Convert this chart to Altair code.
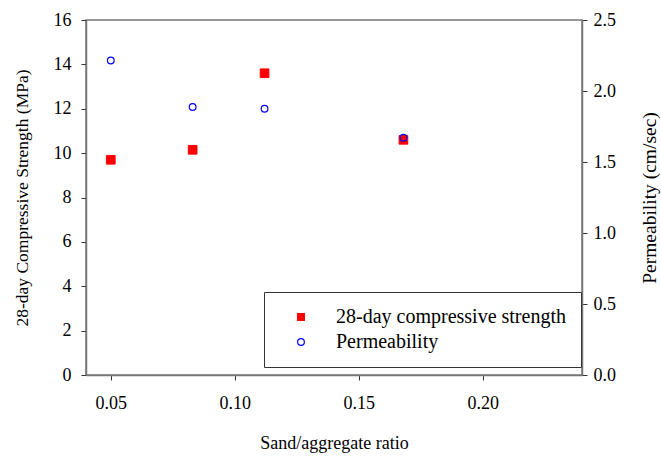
import altair as alt
import pandas as pd

ratio = [0.05, 0.083, 0.112, 0.168]
strength = [9.7, 10.15, 13.6, 10.6]
permeability = [2.215, 1.887, 1.875, 1.671]

s1 = "28-day compressive strength"
s2 = "Permeability"

df1 = pd.DataFrame({"ratio": ratio, "value": strength, "series": s1})
df2 = pd.DataFrame({"ratio": ratio, "value": permeability, "series": s2})

FONT = "Liberation Serif"
dom = [s1, s2]

xenc = alt.X("ratio:Q", scale=alt.Scale(domain=[0.04, 0.24], nice=False, zero=False),
             axis=alt.Axis(values=[0.05, 0.10, 0.15, 0.20], format=".2f",
                           title="Sand/aggregate ratio", labelPadding=14, titlePadding=22))
shape = alt.Shape("series:N", scale=alt.Scale(domain=dom, range=["square", "circle"]), title=None)
fill = alt.Fill("series:N", scale=alt.Scale(domain=dom, range=["#ff0000", "transparent"]), title=None)
stroke = alt.Stroke("series:N", scale=alt.Scale(domain=dom, range=["#ff0000", "#0000ff"]), title=None)

l1 = alt.Chart(df1).mark_point(opacity=1, size=75, strokeWidth=1).encode(
    x=xenc,
    y=alt.Y("value:Q", scale=alt.Scale(domain=[0, 16], nice=False),
            axis=alt.Axis(orient="left", values=list(range(0, 17, 2)),
                          title="28-day Compressive Strength (MPa)", labelPadding=10,
                          titlePadding=22, titleFontSize=17.5)),
    shape=shape, fill=fill, stroke=stroke,
)
l2 = alt.Chart(df2).mark_point(opacity=1, size=45, strokeWidth=1.2).encode(
    x=xenc,
    y=alt.Y("value:Q", scale=alt.Scale(domain=[0, 2.5], nice=False),
            axis=alt.Axis(orient="right", values=[0, 0.5, 1.0, 1.5, 2.0, 2.5], format=".1f",
                          title="Permeability (cm/sec)", labelPadding=6, titlePadding=44,
                          titleAngle=270, titleFontSize=19.5)),
    shape=shape, fill=fill, stroke=stroke,
)

chart = alt.layer(l1, l2).resolve_scale(y="independent").properties(
    width=496, height=355,
    autosize=alt.AutoSizeParams(type="none"),
    padding={"left": 86, "top": 20, "right": 79, "bottom": 81},
).configure_view(stroke="#777777", strokeWidth=1.5).configure_axis(
    labelFont=FONT, titleFont=FONT, labelFontSize=18, titleFontSize=18,
    titleFontWeight="normal", labelColor="black", titleColor="black",
    domainColor="#777777", domainWidth=1.5, tickColor="#333333", tickSize=5, grid=False,
).configure_legend(
    orient="none", legendX=178, legendY=272, strokeColor="#333333", fillColor="white",
    padding=15, labelFont=FONT, labelFontSize=20, labelColor="black", labelLimit=400,
    symbolSize=45, symbolStrokeWidth=1.2, labelOffset=25, symbolOffset=12, rowPadding=5,
)

chart.save("out.html", embed_options={"renderer": "svg", "actions": False})
